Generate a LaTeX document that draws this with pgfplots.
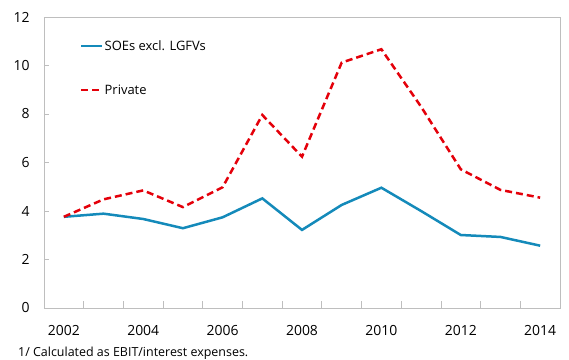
\documentclass[border=0pt]{standalone}
\usepackage{fontspec}
\setmainfont{Open Sans}
\usepackage{pgfplots}
\pgfplotsset{compat=1.18}
\definecolor{soe}{RGB}{20,138,186}
\definecolor{priv}{RGB}{228,0,10}
\definecolor{axgray}{RGB}{190,190,190}
\begin{document}
\begin{tikzpicture}
\begin{axis}[
  scale only axis, width=516bp, height=291bp,
  xmin=2001.5, xmax=2014.5, ymin=0, ymax=12,
  xtick={2002,2004,2006,2008,2010,2012,2014},
  xticklabels={2002,2004,2006,2008,2010,2012,2014},
  minor xtick={2002.5,2003.5,2004.5,2005.5,2006.5,2007.5,2008.5,2009.5,2010.5,2011.5,2012.5,2013.5},
  ytick={0,2,4,6,8,10,12},
  tick pos=left,
  tick align=inside,
  major x tick style={draw=none},
  major tick length=5bp,
  minor tick length=7bp,
  every tick/.style={axgray, line width=0.8pt},
  axis line style={axgray, line width=0.8pt},
  tick label style={font=\fontsize{14}{16}\selectfont, text=black},
  /pgf/number format/assume math mode=true,
  xticklabel shift=14bp,
  yticklabel shift=11bp,
  legend style={draw=none, fill=none, at={(0,1)}, anchor=north west,
    xshift=33bp, yshift=-20bp, row sep=31bp,
    font=\fontsize{13}{15}\selectfont,
    nodes={inner sep=1bp}},
  legend cell align=left,
  legend image code/.code={\draw[#1] (0bp,0bp) -- (21bp,0bp);},
]
\addplot[soe, line width=2.5bp] coordinates {
 (2002,3.76) (2003,3.89) (2004,3.67) (2005,3.29) (2006,3.74) (2007,4.52) (2008,3.22)
 (2009,4.25) (2010,4.96) (2011,4.00) (2012,3.01) (2013,2.93) (2014,2.57)};
\addlegendentry{SOEs excl. LGFVs}
\addplot[priv, line width=2.5bp, dash pattern=on 7bp off 4bp] coordinates {
 (2002,3.76) (2003,4.48) (2004,4.85) (2005,4.16) (2006,4.98) (2007,7.96) (2008,6.24)
 (2009,10.12) (2010,10.67) (2011,8.30) (2012,5.72) (2013,4.87) (2014,4.55)};
\addlegendentry{Private}
\end{axis}
\node[anchor=base west, inner sep=0pt, font=\fontsize{12.5}{14}\selectfont]
  at ([shift={(-26bp,-48bp)}]current axis.south west) {1/ Calculated as EBIT/interest expenses.};
\path (current axis.south west) ++(-44bp,-52bp) coordinate (bbA);
\path (current axis.north east) ++(9bp,17bp) coordinate (bbB);
\pgfresetboundingbox
\path[use as bounding box] (bbA) rectangle (bbB);
\end{tikzpicture}
\end{document}
